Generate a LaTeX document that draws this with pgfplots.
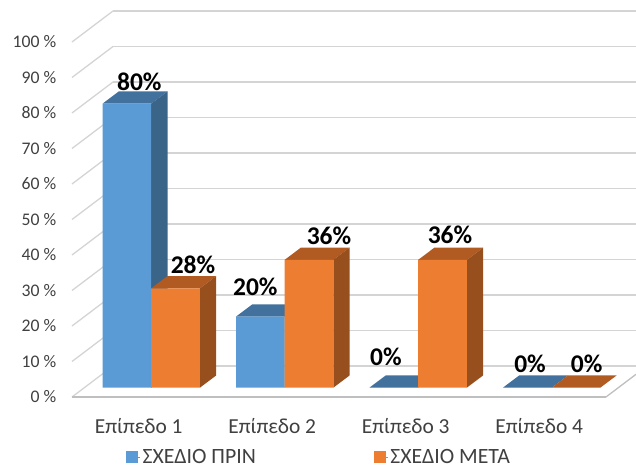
\documentclass[border=0pt]{standalone}
\usepackage{fontspec}
\setmainfont{Carlito}
\usepackage{pgfplots}
\usepackage{pgfplotstable}
\pgfplotsset{compat=1.18}
\definecolor{gridc}{HTML}{D4D4D4}
\definecolor{floorc}{HTML}{BFBFBF}
\definecolor{txt}{HTML}{404040}
\definecolor{bfront}{HTML}{5B9BD5}
\definecolor{btop}{HTML}{41719C}
\definecolor{bside}{HTML}{3A6488}
\definecolor{ofront}{HTML}{ED7D31}
\definecolor{otop}{HTML}{B15B22}
\definecolor{oside}{HTML}{964F1D}
\pgfplotsset{/pgf/number format/assume math mode=true}
% value, and label offset (pt) from the foot of the category centre
\pgfplotstableread{
x v dx dy
0 80 -11.9 22
1 20 -29.4 30
2 0 -32.2 30.7
3 0 -21.7 23.7
}\before
\pgfplotstableread{
x v dx dy
0 28 41.8 23.3
1 36 44.3 24
2 36 31.8 25
3 0 35 23.7
}\after
\pgfplotsset{
  plane/.style={scale only axis, width=534pt, height=355pt, xmin=-0.5, xmax=3.5, ymin=0, ymax=100, clip=false, anchor=south west},
  hidden/.style={hide axis},
  face/.style={draw=none, fill=#1, forget plot, mark=none},
}
\begin{document}
\begin{tikzpicture}[x=1pt,y=1pt]
\useasboundingbox (0,0) rectangle (636,465);
% back wall with grid
\begin{axis}[scale only axis, width=523pt, height=355pt, at={(113pt,99pt)}, anchor=south west,
  xmin=0, xmax=1, ymin=0, ymax=100, xtick=\empty, ytick={0,10,...,100}, yticklabels={},
  ymajorgrids, grid style={gridc, line width=1.3pt}, axis line style={draw=none}, tick style={draw=none}, clip=false]
\end{axis}
% front plane: wall lines, floor, tick labels
\begin{axis}[plane, at={(72pt,68pt)}, axis lines=left, axis line style={draw=none, -}, tick style={draw=none},
  ytick={0,10,...,100}, yticklabel={\pgfmathprintnumber{\tick} \%},
  yticklabel style={anchor=east, inner xsep=0pt, xshift=-13.5pt, text=txt, font=\fontsize{17.7}{17.7}\selectfont},
  xtick={0,1,2,3}, xticklabels={Επίπεδο 1,Επίπεδο 2,Επίπεδο 3,Επίπεδο 4},
  xticklabel style={anchor=center, yshift=-27pt, text=txt, font=\fontsize{21.4}{21.4}\selectfont}]
\pgfplotsinvokeforeach{0,10,...,100}{\draw[gridc, line width=1.3pt] (axis cs:-0.5,#1) -- ++(41pt,31pt);}
\addplot[floorc, line width=1.8pt, mark=none, forget plot] coordinates {(-0.5,0) (3.5,0)};
\draw[floorc, line width=1.3pt] (axis cs:3.5,0) -- ++(30pt,22.7pt);
\end{axis}
% top and side faces, in px along x and in percent along y, in the plane of the bars
\begin{axis}[hidden, scale only axis, width=636pt, height=355pt, xmin=0, xmax=636, ymin=0, ymax=100, clip=false, at={(0pt,77.3pt)}, anchor=south west]
\addplot[face=btop] coordinates {(102.5,80) (118.8,83.46) (167.5,83.46) (151.2,80)} --cycle;
\addplot[face=bside] coordinates {(151.2,0) (167.5,3.46) (167.5,83.46) (151.2,80)} --cycle;
\addplot[face=otop] coordinates {(151.2,28) (167.5,31.46) (216.2,31.46) (199.9,28)} --cycle;
\addplot[face=oside] coordinates {(199.9,0) (216.2,3.46) (216.2,31.46) (199.9,28)} --cycle;
\addplot[face=btop] coordinates {(235.9,20) (252.2,23.46) (300.9,23.46) (284.6,20)} --cycle;
\addplot[face=bside] coordinates {(284.6,0) (300.9,3.46) (300.9,23.46) (284.6,20)} --cycle;
\addplot[face=otop] coordinates {(284.6,36) (300.9,39.46) (349.6,39.46) (333.3,36)} --cycle;
\addplot[face=oside] coordinates {(333.3,0) (349.6,3.46) (349.6,39.46) (333.3,36)} --cycle;
\addplot[face=btop] coordinates {(369.4,0) (385.7,3.46) (434.4,3.46) (418.1,0)} --cycle;
\addplot[face=otop] coordinates {(418.1,36) (434.4,39.46) (483.1,39.46) (466.8,36)} --cycle;
\addplot[face=oside] coordinates {(466.8,0) (483.1,3.46) (483.1,39.46) (466.8,36)} --cycle;
\addplot[face=btop] coordinates {(502.9,0) (519.2,3.46) (567.9,3.46) (551.6,0)} --cycle;
\addplot[face=otop] coordinates {(551.6,0) (567.9,3.46) (616.6,3.46) (600.3,0)} --cycle;
\end{axis}
% front faces of the bars
\begin{axis}[plane, hidden, at={(84.45pt,77.3pt)}, ybar, bar width=48.7pt]
\addplot[draw=none, fill=bfront, bar shift=-24.35pt] table[x=x, y=v] {\before};
\addplot[draw=none, fill=ofront, bar shift=24.35pt] table[x=x, y=v] {\after};
\end{axis}
% value labels
\begin{axis}[plane, hidden, at={(84.45pt,77.3pt)},
  visualization depends on={\thisrow{dx}\as\dxval},
  visualization depends on={\thisrow{dy}\as\dyval},
  nodes near coords={\pgfmathprintnumber{\pgfplotspointmeta}\%},
  every node near coord/.append style={anchor=center, xshift=\dxval pt, yshift=\dyval pt, font=\fontsize{25.5}{25.5}\selectfont\bfseries, text=black, inner sep=0pt}]
\addplot[only marks, mark=none, point meta=y] table[x=x, y=v] {\before};
\addplot[only marks, mark=none, point meta=y] table[x=x, y=v] {\after};
\end{axis}
% legend
\begin{axis}[scale only axis, width=636pt, height=465pt, at={(0pt,0pt)}, anchor=south west, hide axis, xmin=0, xmax=636, ymin=0, ymax=465,
  legend columns=2,
  legend style={at={(126pt,8pt)}, anchor=west, draw=none, fill=none, inner sep=0pt, font=\fontsize{21.8}{21.8}\selectfont, text=txt,
    nodes={inner ysep=0pt},
    /tikz/every even column/.append style={column sep=116pt}},
  legend image code/.code={\fill[#1] (0pt,-5.5pt) rectangle (11pt,5.5pt); \path (0pt,0pt) -- (14pt,0pt);}]
\addlegendimage{bfront}
\addlegendentry{ΣΧΕΔΙΟ ΠΡΙΝ}
\addlegendimage{ofront}
\addlegendentry{ΣΧΕΔΙΟ ΜΕΤΑ}
\end{axis}
\end{tikzpicture}
\end{document}
